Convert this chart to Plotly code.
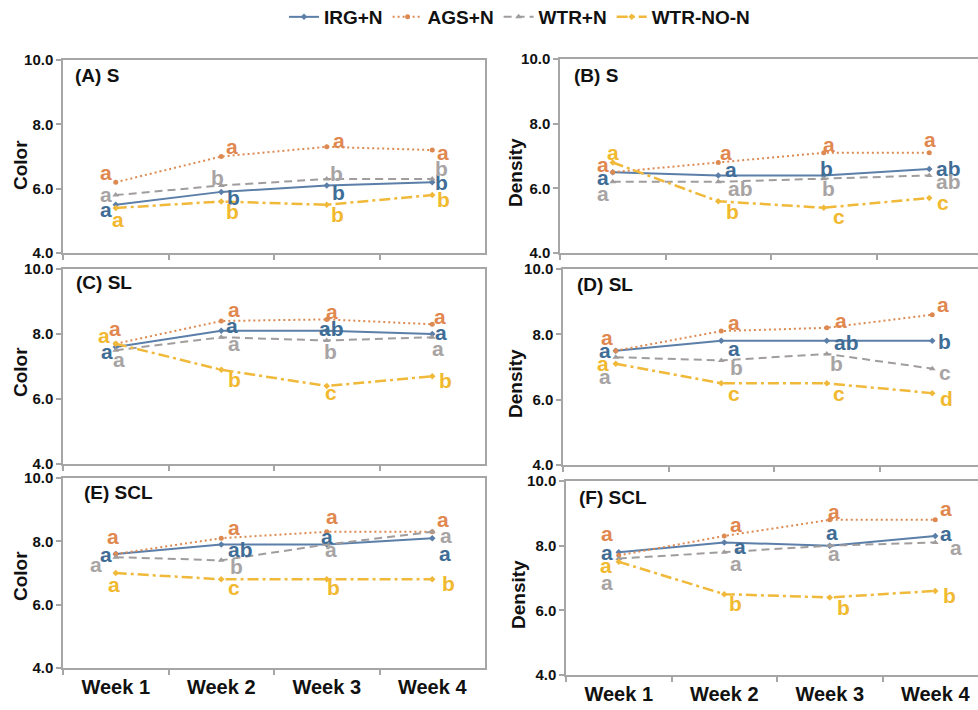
import plotly.graph_objects as go

WEEKS = ["Week 1", "Week 2", "Week 3", "Week 4"]
SERIES = ["IRG+N", "AGS+N", "WTR+N", "WTR-NO-N"]

# ---- values ----
A_IRG = [5.5, 5.9, 6.1, 6.2]
A_AGS = [6.2, 7.0, 7.3, 7.2]
A_WTR = [5.8, 6.1, 6.3, 6.3]
A_NON = [5.4, 5.6, 5.5, 5.8]

B_IRG = [6.5, 6.4, 6.4, 6.6]
B_AGS = [6.5, 6.8, 7.1, 7.1]
B_WTR = [6.2, 6.2, 6.3, 6.4]
B_NON = [6.8, 5.6, 5.4, 5.7]

C_IRG = [7.6, 8.1, 8.1, 8.0]
C_AGS = [7.7, 8.4, 8.45, 8.3]
C_WTR = [7.5, 7.9, 7.8, 7.9]
C_NON = [7.7, 6.9, 6.4, 6.7]

D_IRG = [7.5, 7.8, 7.8, 7.8]
D_AGS = [7.5, 8.1, 8.2, 8.6]
D_WTR = [7.3, 7.2, 7.4, 6.95]
D_NON = [7.1, 6.5, 6.5, 6.2]

E_IRG = [7.6, 7.9, 7.9, 8.1]
E_AGS = [7.6, 8.1, 8.3, 8.3]
E_WTR = [7.5, 7.4, 7.9, 8.3]
E_NON = [7.0, 6.8, 6.8, 6.8]

F_IRG = [7.8, 8.1, 8.0, 8.3]
F_AGS = [7.7, 8.3, 8.8, 8.8]
F_WTR = [7.6, 7.8, 8.0, 8.1]
F_NON = [7.5, 6.5, 6.4, 6.6]

# ---- significance letters ----
A_IRG_L = ["a", "b", "b", "b"]
A_AGS_L = ["a", "a", "a", "a"]
A_WTR_L = ["a", "b", "b", "b"]
A_NON_L = ["a", "b", "b", "b"]

B_IRG_L = ["a", "a", "b", "ab"]
B_AGS_L = ["a", "a", "a", "a"]
B_WTR_L = ["a", "ab", "b", "ab"]
B_NON_L = ["a", "b", "c", "c"]

C_IRG_L = ["a", "a", "ab", "a"]
C_AGS_L = ["a", "a", "a", "a"]
C_WTR_L = ["a", "a", "b", "a"]
C_NON_L = ["a", "b", "c", "b"]

D_IRG_L = ["a", "a", "ab", "b"]
D_AGS_L = ["a", "a", "a", "a"]
D_WTR_L = ["a", "b", "b", "c"]
D_NON_L = ["a", "c", "c", "d"]

E_IRG_L = ["a", "ab", "a", "a"]
E_AGS_L = ["a", "a", "a", "a"]
E_WTR_L = ["a", "b", "a", "a"]
E_NON_L = ["a", "c", "b", "b"]

F_IRG_L = ["a", "a", "a", "a"]
F_AGS_L = ["a", "a", "a", "a"]
F_WTR_L = ["a", "a", "a", "a"]
F_NON_L = ["a", "b", "b", "b"]

PANEL_TITLES = ["(A) S", "(B) S", "(C) SL", "(D) SL", "(E) SCL", "(F) SCL"]
Y_TITLES = ["Color", "Density", "Color", "Density", "Color", "Density"]

# ---- styling / layout (not data) ----
W, H = 978, 710
FONT = "Liberation Sans, Arial, sans-serif"
LINE_COL = ["#5b7fa8", "#dc8a52", "#a19d9d", "#f0b93a"]
TEXT_COL = ["#3f6d96", "#e0884f", "#a8a4a4", "#f1b92f"]
DASH = ["solid", "2px,3px", "8px,5px", "11px,4px,3px,4px"]
SYMBOL = ["diamond", "circle", "triangle-up", "diamond"]
MSIZE = [5, 5, 6, 5]
LWIDTH = [2, 2, 2, 2.5]
FRAME = "#a6a6a6"

# pixel frames: (left, top, right, bottom)
FRAMES = [
    (63, 60, 485, 253), (560, 59, 978, 253),
    (63, 269, 485, 464), (563, 269, 978, 465),
    (63, 478, 485, 668), (566, 481, 978, 675),
]
TITLE_SHIFT = [(10, 15), (12, 16), (11, 14), (12, 16), (19, 14), (11, 16)]
YTITLE_POS = [(20, 165), (515, 173), (20, 372), (516, 384), (20, 576), (518, 595)]

# letter offsets (dx, dy) in px, per panel -> series -> week
OFFSETS = [
    [[(-10, 7), (12, 6), (12, 7), (9, 0)],
     [(-10, -8), (11, -8), (12, -4), (11, 4)],
     [(-10, 1), (-4, -8), (10, -6), (9, -11)],
     [(2, 14), (11, 10), (11, 10), (11, 4)]],
    [[(-10, 7), (13, -4), (3, -7), (19, 0)],
     [(-10, -6), (8, -8), (5, -6), (1, -11)],
     [(-10, 14), (22, 7), (5, 10), (19, 6)],
     [(0, -8), (14, 10), (15, 11), (14, 6)]],
    [[(-9, 7), (11, -3), (5, -2), (9, 1)],
     [(-1, -13), (13, -9), (5, -6), (8, -6)],
     [(3, 11), (13, 8), (4, 11), (6, 13)],
     [(-12, -6), (13, 10), (4, 9), (13, 4)]],
    [[(-11, 2), (13, 10), (20, 2), (12, 1)],
     [(-9, -11), (13, -7), (14, -5), (11, -8)],
     [(-11, 21), (15, 7), (10, 10), (13, 6)],
     [(-13, 2), (13, 12), (12, 12), (14, 5)]],
    [[(-10, 2), (19, 5), (0, -6), (13, 17)],
     [(-3, -16), (13, -9), (5, -13), (11, -10)],
     [(-20, 9), (15, 6), (4, 7), (14, 6)],
     [(-2, 13), (13, 10), (7, 8), (16, 4)]],
    [[(-12, 2), (16, 6), (2, -11), (11, 0)],
     [(-12, -20), (12, -9), (4, -6), (11, -9)],
     [(-12, 26), (12, 13), (4, 10), (21, 7)],
     [(-13, 6), (11, 9), (14, 10), (14, 5)]],
]

PANEL_VALUES = [
    [A_IRG, A_AGS, A_WTR, A_NON],
    [B_IRG, B_AGS, B_WTR, B_NON],
    [C_IRG, C_AGS, C_WTR, C_NON],
    [D_IRG, D_AGS, D_WTR, D_NON],
    [E_IRG, E_AGS, E_WTR, E_NON],
    [F_IRG, F_AGS, F_WTR, F_NON],
]
PANEL_LETTERS = [
    [A_IRG_L, A_AGS_L, A_WTR_L, A_NON_L],
    [B_IRG_L, B_AGS_L, B_WTR_L, B_NON_L],
    [C_IRG_L, C_AGS_L, C_WTR_L, C_NON_L],
    [D_IRG_L, D_AGS_L, D_WTR_L, D_NON_L],
    [E_IRG_L, E_AGS_L, E_WTR_L, E_NON_L],
    [F_IRG_L, F_AGS_L, F_WTR_L, F_NON_L],
]

fig = go.Figure()
annotations = []
layout = {}
BIN = 105.5

for p in range(6):
    n = p + 1
    xa = "x" if n == 1 else f"x{n}"
    ya = "y" if n == 1 else f"y{n}"
    l, t, r, b = FRAMES[p]
    right_col = p % 2 == 1
    bottom = p >= 4
    xmax = -0.5 + (r - l) / BIN if right_col else 3.5

    for s in range(4):
        fig.add_trace(go.Scatter(
            x=WEEKS, y=PANEL_VALUES[p][s], xaxis=xa, yaxis=ya,
            mode="lines+markers", name=SERIES[s],
            showlegend=(p == 0), legendgroup=SERIES[s],
            line=dict(color=LINE_COL[s], width=LWIDTH[s], dash=DASH[s]),
            marker=dict(color=LINE_COL[s], size=MSIZE[s], symbol=SYMBOL[s]),
            hoverinfo="skip",
        ))
        for w in range(4):
            dx, dy = OFFSETS[p][s][w]
            lab = PANEL_LETTERS[p][s][w]
            corr = 2 if lab in ("a", "c") else 0
            annotations.append(dict(
                x=WEEKS[w], y=PANEL_VALUES[p][s][w], xref=xa, yref=ya,
                text=lab, showarrow=False, xanchor="center", yanchor="middle",
                xshift=dx, yshift=-dy + corr,
                font=dict(family=FONT, size=21, color=TEXT_COL[s], weight="bold"),
            ))

    layout["xaxis" if n == 1 else f"xaxis{n}"] = dict(
        domain=[l / W, r / W], anchor=ya, type="category",
        categoryorder="array", categoryarray=WEEKS,
        range=[-0.5, xmax], tickson="boundaries",
        ticks="outside", ticklen=5, tickcolor=FRAME, tickwidth=1.5,
        showline=True, linecolor=FRAME, linewidth=1.5, mirror=True,
        showgrid=False, zeroline=False, showticklabels=bottom,
        tickfont=dict(family=FONT, size=20, color="#111111", weight="bold"),
        fixedrange=True, automargin=False,
    )
    layout["yaxis" if n == 1 else f"yaxis{n}"] = dict(
        domain=[1 - b / H, 1 - t / H], anchor=xa, range=[4, 10],
        tickmode="array", tickvals=[4, 6, 8, 10], tickformat=".1f",
        ticks="outside", ticklen=5, tickcolor=FRAME, tickwidth=1.5,
        showline=True, linecolor=FRAME, linewidth=1.5,
        mirror=(not right_col),
        showgrid=False, zeroline=False,
        tickfont=dict(family=FONT, size=15, color="#111111", weight="bold"),
        fixedrange=True, automargin=False,
    )

    tx, ty = TITLE_SHIFT[p]
    annotations.append(dict(
        x=0, y=1, xref=f"{xa} domain", yref=f"{ya} domain",
        text=PANEL_TITLES[p], showarrow=False, xanchor="left", yanchor="middle",
        xshift=tx, yshift=-ty,
        font=dict(family=FONT, size=19, color="#111111", weight="bold"),
    ))
    ytx, yty = YTITLE_POS[p]
    annotations.append(dict(
        x=ytx / W, y=1 - yty / H, xref="paper", yref="paper",
        text=Y_TITLES[p], textangle=-90, showarrow=False,
        xanchor="center", yanchor="middle",
        font=dict(family=FONT, size=19, color="#111111", weight="bold"),
    ))

fig.update_layout(
    width=W, height=H,
    margin=dict(l=0, r=0, t=0, b=0, pad=0, autoexpand=False),
    paper_bgcolor="white", plot_bgcolor="white",
    font=dict(family=FONT, color="#111111"),
    showlegend=True,
    legend=dict(
        orientation="h", x=284 / W, xanchor="left", y=1 - 17 / H, yanchor="middle",
        font=dict(family=FONT, size=19, color="#111111", weight="bold"),
        bgcolor="rgba(0,0,0,0)", itemclick=False, itemdoubleclick=False,
    ),
    annotations=annotations,
    **layout,
)

fig.write_html(
    "out.html",
    config={"displayModeBar": False},
    post_script="document.body.style.margin='0px';document.body.style.padding='0px';",
)
